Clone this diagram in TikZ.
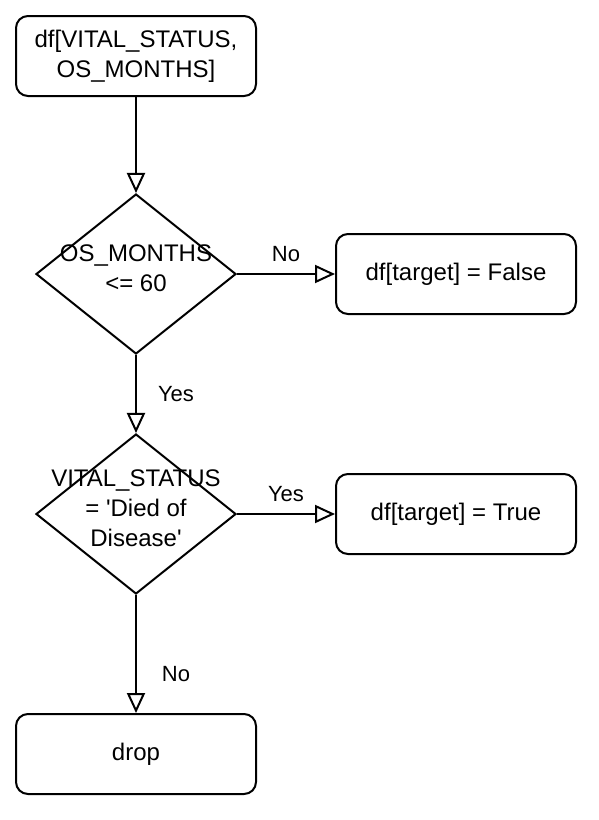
\documentclass[tikz,border=0pt]{standalone}
\usepackage{fontspec}
\setmainfont{Liberation Sans}
\usetikzlibrary{arrows.meta,positioning,shapes.geometric}
\newcommand\dtxt[1]{\smash{\makebox[0pt]{\begin{tabular}{@{}c@{}}#1\end{tabular}}}}
\tikzset{
  >={Triangle[open,length=20pt,width=18pt]},
  box/.style={draw,rounded corners=12pt,line width=2pt,minimum width=240pt,minimum height=80pt,inner sep=0pt,align=center,font=\fontsize{24}{30}\selectfont,fill=white},
  dec/.style={draw,diamond,line width=2pt,minimum width=200pt,minimum height=160pt,inner sep=0pt,font=\fontsize{24}{30}\selectfont,fill=white},
  lab/.style={font=\fontsize{22}{26}\selectfont},
  arr/.style={->,line width=2pt},
}
\begin{document}
\begin{tikzpicture}[x=1pt,y=-1pt]
\useasboundingbox[fill=white] (0,0) rectangle (598,820);
\node[box] (src) at (136,56) {df[VITAL\_STATUS,\\OS\_MONTHS]};
\node[dec] (months) at (136,274) {\raisebox{-6pt}{\dtxt{OS\_MONTHS\\\textless= 60}}};
\node[box] (fls) at (456,274) {df[target] = False};
\node[dec] (vital) at (136,514) {\raisebox{-6pt}{\dtxt{VITAL\_STATUS\\= \textquotesingle Died of\\Disease\textquotesingle}}};
\node[box] (tru) at (456,514) {df[target] = True};
\node[box] (drop) at (136,754) {drop};
% connectors
\draw[arr] (src) -- (months);
\draw[arr] (months) -- (fls);
\draw[arr] (months) -- (vital);
\draw[arr] (vital) -- (tru);
\draw[arr] (vital) -- (drop);
\node[lab] (no1) at (286,254) {No};
\node[lab] (yes1) at (176,394) {Yes};
\node[lab] (yes2) at (286,494) {Yes};
\node[lab] (no2) at (176,674) {No};
\end{tikzpicture}
\end{document}
